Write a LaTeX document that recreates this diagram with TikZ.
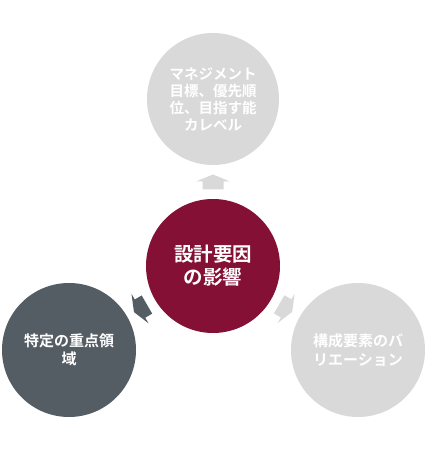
\documentclass[tikz,border=0pt]{standalone}
\usepackage{fontspec}
\newfontfamily\jp{Noto Sans CJK JP}[BoldFont={Noto Sans CJK JP Bold}]
\usetikzlibrary{calc}
\definecolor{lightg}{HTML}{D9D9D9}
\definecolor{slate}{HTML}{555D64}
\definecolor{maroon}{HTML}{841036}
\begin{document}
\begin{tikzpicture}[x=1pt,y=1pt,
  bub/.style={circle, inner sep=0pt, outer sep=0pt, text=white, align=center},
  smalltxt/.style={font=\jp\bfseries\fontsize{14.5}{17}\selectfont},
  midtxt/.style={font=\jp\bfseries\fontsize{15}{18.5}\selectfont},
  bigtxt/.style={font=\jp\bfseries\fontsize{19.5}{23}\selectfont},
  blockarrow/.pic={\fill[pic actions] (-7.5,-10.5) -- (0.5,-10.5) -- (0.5,-17) -- (7.5,0) -- (0.5,17) -- (0.5,10.5) -- (-7.5,10.5) -- cycle;}]
\fill[white] (0,0) rectangle (427,449);
\useasboundingbox (0,0) rectangle (427,449);
\node[bub, fill=maroon, minimum size=134pt, bigtxt] (c) at (213,183) {設計要因\\の影響};
\node[bub, fill=lightg, minimum size=132pt, smalltxt] (t) at (213,350) {マネジメント\\目標、優先順\\位、目指す能\\カレベル};
\node[bub, fill=slate, minimum size=134pt, midtxt] (l) at (69,99) {特定の重点領\\域};
\node[bub, fill=lightg, minimum size=134pt, midtxt] (r) at (358,99) {構成要素のバ\\リエーション};
\coordinate (at) at ($(c.center)!84pt!(t.center)$);
\coordinate (al) at ($(c.center)!84pt!(l.center)$);
\coordinate (ar) at ($(c.center)!84pt!(r.center)$);
\pic[fill=lightg, rotate=90] at (at) {blockarrow};
\pic[fill=slate, rotate=210] at (al) {blockarrow};
\pic[fill=lightg, rotate=330] at (ar) {blockarrow};
\end{tikzpicture}
\end{document}
